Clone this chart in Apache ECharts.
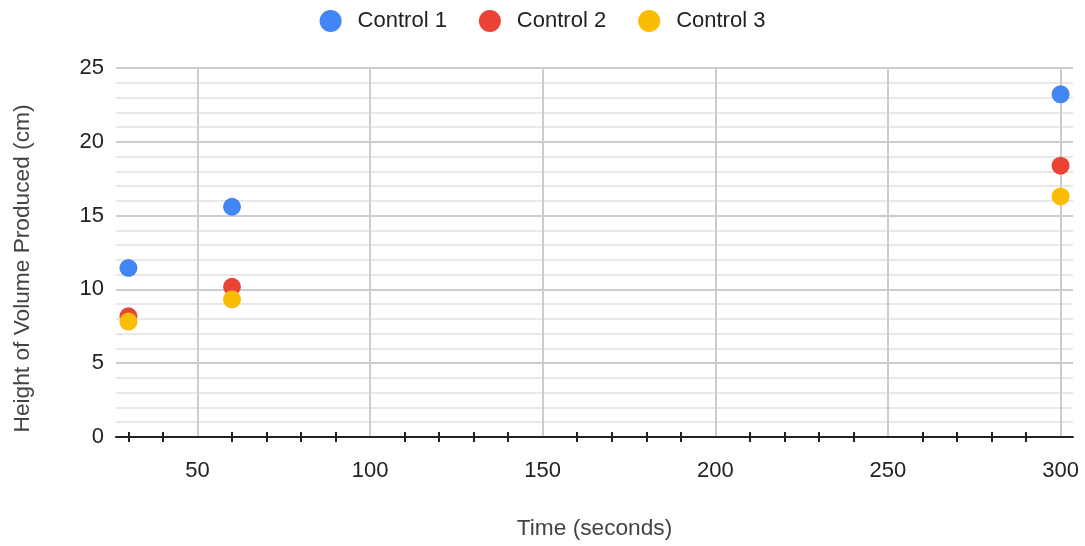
<!DOCTYPE html>
<html>
<head>
<meta charset="utf-8">
<script src="https://cdn.jsdelivr.net/npm/echarts@6/dist/echarts.min.js"></script>
<style>
html,body{margin:0;padding:0;background:#fff;}
#c{width:1085px;height:546px;}
</style>
</head>
<body>
<div id="c"></div>
<script>
const seriesNames = ['Control 1', 'Control 2', 'Control 3'];
const times = [30, 60, 300];
const control1 = [11.45, 15.6, 23.22];
const control2 = [8.18, 10.18, 18.38];
const control3 = [7.82, 9.33, 16.3];
const xLabelValues = [50, 100, 150, 200, 250, 300];
const xMinorTickValues = [30, 40, 60, 70, 80, 90, 110, 120, 130, 140, 160, 170, 180, 190, 210, 220, 230, 240, 260, 270, 280, 290];
const colors = ['#4285F4', '#EA4335', '#FBBC04'];

const xMin = 26.4, xMax = 303.6;
const FONT = 'Liberation Sans, Arial, sans-serif';

function pairs(vals) { return times.map((t, i) => [t, vals[i]]); }

const baseX = {
  type: 'value', min: xMin, max: xMax, position: 'bottom',
  axisLine: { show: false }, axisTick: { show: false }, axisLabel: { show: false },
  splitLine: { show: false }
};

const chart = echarts.init(document.getElementById('c'), null, { renderer: 'canvas' });
chart.setOption({
  animation: false,
  color: colors,
  textStyle: { fontFamily: FONT },
  legend: {
    top: 5, left: 'center',
    itemWidth: 22, itemHeight: 22, itemGap: 32,
    icon: 'circle',
    textStyle: { fontSize: 22, color: '#222', fontFamily: FONT, padding: [0, 0, 0, 11] },
    data: seriesNames
  },
  grid: { left: 116, right: 12, top: 68, bottom: 109, containLabel: false },
  xAxis: [
    Object.assign({}, baseX, {
      name: 'Time (seconds)', nameLocation: 'middle', nameGap: 80,
      nameTextStyle: { fontSize: 22.7, color: '#444', fontFamily: FONT },
      axisTick: { show: true, customValues: xMinorTickValues, length: 5, inside: false, lineStyle: { color: '#222', width: 2 } },
      axisLine: { show: true, onZero: false, lineStyle: { color: '#222', width: 2 } }
    }),
    Object.assign({}, baseX, {
      axisTick: { show: true, customValues: xMinorTickValues, length: 5, inside: true, lineStyle: { color: '#222', width: 2 } }
    }),
    Object.assign({}, baseX, {
      axisTick: { show: false, customValues: xLabelValues },
      axisLabel: { show: true, customValues: xLabelValues, fontSize: 22, color: '#222', margin: 23, fontFamily: FONT },
      splitLine: { show: true, lineStyle: { color: '#cccccc', width: 2 } }
    })
  ],
  yAxis: {
    type: 'value', min: 0, max: 25, interval: 5,
    name: 'Height of Volume Produced (cm)', nameLocation: 'middle', nameGap: 82, nameRotate: 90,
    nameTextStyle: { fontSize: 22.7, color: '#444', fontFamily: FONT, padding: [0, 32, 0, 0] },
    axisLine: { show: false }, axisTick: { show: false },
    axisLabel: { fontSize: 22, color: '#222', margin: 12, fontFamily: FONT },
    splitLine: { show: true, lineStyle: { color: '#cccccc', width: 2 } },
    minorTick: { show: false, splitNumber: 5 },
    minorSplitLine: { show: true, lineStyle: { color: '#e8e8e8', width: 2 } }
  },
  series: [
    { name: seriesNames[0], type: 'scatter', xAxisIndex: 0, symbolSize: 18, itemStyle: { opacity: 1 }, data: pairs(control1), z: 3 },
    { name: seriesNames[1], type: 'scatter', xAxisIndex: 0, symbolSize: 18, itemStyle: { opacity: 1 }, data: pairs(control2), z: 4 },
    { name: seriesNames[2], type: 'scatter', xAxisIndex: 0, symbolSize: 18, itemStyle: { opacity: 1 }, data: pairs(control3), z: 5 }
  ]
});
</script>
</body>
</html>
